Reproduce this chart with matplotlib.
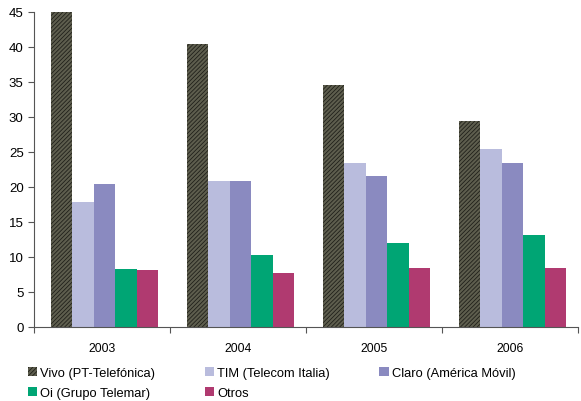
import numpy as np
import matplotlib
matplotlib.use("Agg")
import matplotlib.pyplot as plt

plt.rcParams['font.family'] = ['Liberation Sans', 'DejaVu Sans']
plt.rcParams['hatch.linewidth'] = 0.6

years = ['2003', '2004', '2005', '2006']
operators = ['Vivo (PT-Telefónica)', 'TIM (Telecom Italia)', 'Claro (América Móvil)',
             'Oi (Grupo Telemar)', 'Otros']
vivo = [45.2, 40.5, 34.6, 29.4]
tim = [17.9, 20.8, 23.4, 25.4]
claro = [20.5, 20.8, 21.6, 23.4]
oi = [8.3, 10.3, 12.0, 13.1]
otros = [8.1, 7.7, 8.4, 8.4]
series = [vivo, tim, claro, oi, otros]
colors = ['#5e5e4e', '#b9bcdd', '#8a8ac0', '#00a574', '#b03a70']

fig = plt.figure(figsize=(5.81, 4.02), dpi=100)
ax = fig.add_axes([34 / 581, 74 / 402, 544 / 581, 315 / 402])

x = np.arange(len(years))
w = 0.158
handles = []
for i, (vals, c) in enumerate(zip(series, colors)):
    pos = x + (i - 2) * w + 0.02
    if i == 0:
        b = ax.bar(pos, vals, w, color=c, hatch='////////', edgecolor='#20201a',
                   linewidth=0, label=operators[i])
    else:
        b = ax.bar(pos, vals, w, color=c, linewidth=0, label=operators[i])
    handles.append(b)

ax.set_xlim(-0.5, 3.5)
ax.set_ylim(0, 45)
ax.set_yticks(range(0, 46, 5))
ax.set_xticks(np.arange(-0.5, 4, 1))
ax.set_xticklabels([])
ax.set_xticks(x, minor=True)
ax.set_xticklabels(years, minor=True)
ax.tick_params(axis='x', which='minor', length=0, pad=11, labelsize=8.7)
ax.tick_params(axis='x', which='major', length=4, color='#555555')
ax.tick_params(axis='y', labelsize=9.5, length=4, color='#555555')
for s in ['top', 'right']:
    ax.spines[s].set_visible(False)
for s in ['left', 'bottom']:
    ax.spines[s].set_color('#555555')

# legend filled by columns, so reorder to read row by row
order = [0, 3, 1, 4, 2]
ax.legend([handles[k] for k in order], [operators[k] for k in order],
          loc='upper left', bbox_to_anchor=(-0.021, -0.11), ncol=3, frameon=False,
          fontsize=9.3, handlelength=0.75, handleheight=0.75, handletextpad=0.2,
          columnspacing=3.85, labelspacing=0.6, borderaxespad=0)

fig.savefig('out.png', dpi=100)
